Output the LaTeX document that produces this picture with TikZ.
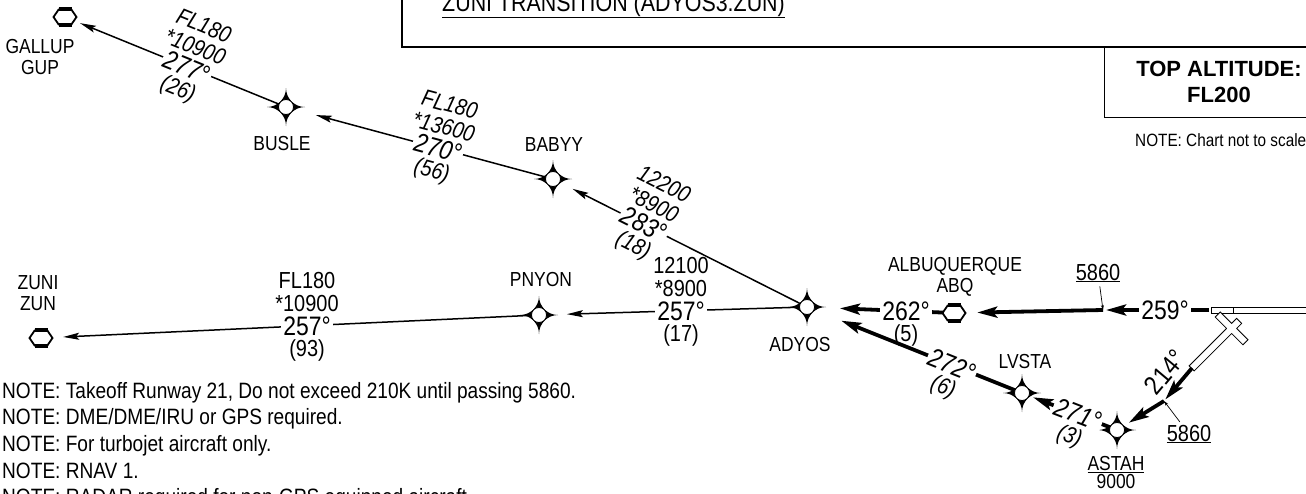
\documentclass[tikz,border=0pt]{standalone}
\usepackage{fontspec}
\setmainfont{Liberation Sans}[FakeStretch=0.86]
\newfontfamily\boxfont{Liberation Sans}
\usetikzlibrary{arrows.meta}

\newcommand{\wptfont}{\fontsize{20.3}{21.5}\selectfont}
\newcommand{\altfont}{\fontsize{23.2}{23}\selectfont}
\newcommand{\crsfont}{\fontsize{26.7}{28}\selectfont}
\newcommand{\notefont}{\fontsize{22.2}{26}\selectfont}

\begin{document}
\begin{tikzpicture}[
        x=1pt, y=-1pt,
        fixpt/.style={draw, circle, fill=white, line width=0.8pt, minimum size=15pt, inner sep=0pt},
        navaid/.style={circle, minimum size=22pt, inner sep=0pt},
        wpt/.style={font=\wptfont, align=center, inner sep=0pt},
        alt/.style={font=\altfont, align=center, inner sep=2pt},
        ralt/.style={alt, font=\altfont\itshape},
        crs/.style={font=\crsfont, fill=white, inner sep=2pt},
        rcrs/.style={crs, font=\crsfont\itshape},
        trans/.style={line width=1.5pt, -{Stealth[length=16pt, width=7pt, inset=3pt]}},
        dep/.style={line width=3.8pt, -{Stealth[length=20pt, width=11pt, inset=4pt]}},
        leader/.style={line width=0.7pt, -{Stealth[length=5pt, width=3pt]}},
        note/.style={font=\notefont, anchor=base west, inner sep=0pt}]

    \useasboundingbox (0,0) rectangle (1306,493);
    \clip (0,0) rectangle (1306,493);

    % --- FRAMES ---
    \draw[line width=1.8pt] (402,-5) -- (402,47) -- (1320,47);
    \draw[line width=1pt] (1104,47) -- (1104,117) -- (1320,117);
    \node[font=\fontsize{24.9}{26}\selectfont, anchor=base west, inner sep=0pt] (title) at (442,11) {\underline{ZUNI TRANSITION (ADYOS3.ZUN)}};
    \node[font=\boxfont\fontsize{22}{26}\selectfont\bfseries, align=center, inner sep=0pt] (top) at (1219,82) {TOP ALTITUDE:\\FL200};
    \node[font=\fontsize{17.8}{20}\selectfont, anchor=base west, inner sep=0pt] (scale) at (1135,146) {NOTE: Chart not to scale};

    % --- RUNWAYS ---
    \draw[line width=1pt, fill=white] (1211,307) rectangle (1320,313);
    \draw[line width=0.6pt] (1233,307) -- (1233,313);
    \begin{scope}[shift={(1192,368)}, rotate=45]
        \draw[line width=2pt] (0,-3) rectangle (66,3) (53,-19) rectangle (59,19);
        \fill[white] (0,-3) rectangle (66,3) (53,-19) rectangle (59,19);
    \end{scope}

    % --- NAVAIDS ---
    \foreach \n/\x/\y in {gup/65/17, zun/41/338, abq/954/313} {
        \begin{scope}[shift={(\x,\y)}]
            \draw[line width=1.8pt] (-6,-8) -- (-11.5,0) -- (-6,8) (6,-8) -- (11.5,0) -- (6,8);
            \draw[line width=4pt] (-6.5,-8) -- (6.5,-8) (-6.5,8) -- (6.5,8);
        \end{scope}
        \node[navaid] (\n) at (\x,\y) {};
    }

    % --- FIXES ---
    \foreach \n/\x/\y in {busle/286/107, babyy/553/179, pnyon/539/315, adyos/807/307, lvsta/1022/393, astah/1117/430} {
        \fill[shift={(\x,\y)}] (0,-19) .. controls (0,-8.5) and (8.5,0) .. (19,0)
            .. controls (8.5,0) and (0,8.5) .. (0,19)
            .. controls (0,8.5) and (-8.5,0) .. (-19,0)
            .. controls (-8.5,0) and (0,-8.5) .. (0,-19) -- cycle;
        \node[fixpt] (\n) at (\x,\y) {};
    }

    % --- NAMES ---
    \node[wpt] (gupN) at (40,57) {GALLUP\\GUP};
    \node[wpt] (zunN) at (38,293) {ZUNI\\ZUN};
    \node[wpt] (abqN) at (955,277) {ALBUQUERQUE\\ABQ};
    \node[wpt] (busleN) at (282,144) {BUSLE};
    \node[wpt] (babyyN) at (554,145) {BABYY};
    \node[wpt] (pnyonN) at (541,280) {PNYON};
    \node[wpt] (adyosN) at (800,345) {ADYOS};
    \node[wpt] (lvstaN) at (1025,362) {LVSTA};
    \node[wpt, font=\fontsize{20.3}{18.5}\selectfont, anchor=north] (astahN) at (1116,456) {\underline{ASTAH}\\9000};

    % --- TRANSITIONS ---
    \draw[trans, shorten >=5pt] (busle) -- (gup);
    \draw[trans, shorten >=23pt] (babyy) -- (busle);
    \draw[trans, shorten >=14pt] (adyos) -- (babyy);
    \draw[trans, shorten >=20pt] (adyos) -- (pnyon);
    \draw[trans, shorten >=11pt] (pnyon) -- (zun);

    % --- DEPARTURE ---
    \coordinate (rwyW) at (1209,310);
    \coordinate (rwyS) at (1192,368);
    \coordinate (x1) at (1103,310);
    \coordinate (x2) at (1164,401);
    \draw[dep, shorten >=3pt] (rwyW) -- (x1);
    \draw[dep, shorten >=12pt] (x1) -- (abq);
    \draw[dep, shorten >=25pt] (abq) -- (adyos);
    \draw[dep, shorten >=2pt] (rwyS) -- (x2);
    \draw[dep, shorten >=6pt] (x2) -- (astah);
    \draw[dep, shorten >=4pt] (astah) -- (lvsta);
    \draw[dep, shorten >=29pt] (lvsta) -- (adyos);

    % crossing altitudes
    \node[alt, anchor=base] (alt1) at (1098,280) {\underline{5860}};
    \node[alt, anchor=base] (alt2) at (1189,441) {\underline{5860}};
    \draw[leader, shorten <=2pt] (alt1) -- (x1);
    \draw[leader, shorten <=1pt] (alt2) -- (x2);

    % --- LEG LABELS ---
    \node[rcrs, rotate=-22.2] (leg1) at (187,67) {277°};
    \node[ralt, rotate=-22.2, anchor=south] (leg1a) at (leg1.north) {FL180\\*10900};
    \node[ralt, rotate=-22.2, anchor=north] (leg1b) at (leg1.south) {(26)};

    \node[rcrs, rotate=-15.1] (leg2) at (438,148) {270°};
    \node[ralt, rotate=-15.1, anchor=south] (leg2a) at (leg2.north) {FL180\\*13600};
    \node[ralt, rotate=-15.1, anchor=north] (leg2b) at (leg2.south) {(56)};

    \node[rcrs, rotate=-26.7] (leg3) at (644,224) {283°};
    \node[ralt, rotate=-26.7, anchor=south] (leg3a) at (leg3.north) {12200\\*8900};
    \node[ralt, rotate=-26.7, anchor=north] (leg3b) at (leg3.south) {(18)};

    \node[crs] (leg4) at (681,311) {257°};
    \node[alt, anchor=south] (leg4a) at (leg4.north) {12100\\*8900};
    \node[alt, anchor=north] (leg4b) at (leg4.south) {(17)};

    \node[crs] (leg5) at (307,326) {257°};
    \node[alt, anchor=south] (leg5a) at (leg5.north) {FL180\\*10900};
    \node[alt, anchor=north] (leg5b) at (leg5.south) {(93)};

    \node[crs] (leg6) at (906,311) {262°};
    \node[alt, anchor=north] (leg6b) at (leg6.south) {(5)};

    \node[crs] (leg7) at (1165,310) {259°};

    \node[rcrs, rotate=-21.8] (leg8) at (952,365) {272°};
    \node[ralt, rotate=-21.8, anchor=north] (leg8b) at (leg8.south) {(6)};

    \node[rcrs, rotate=-21.3] (leg9) at (1078,414) {271°};
    \node[ralt, rotate=-21.3, anchor=north] (leg9b) at (leg9.south) {(3)};

    \node[font=\crsfont, inner sep=0pt, rotate=50] (leg10) at (1165,372) {214°};

    % --- NOTES ---
    \foreach \txt [count=\i] in {{NOTE: Takeoff Runway 21, Do not exceed 210K until passing 5860.},
            {NOTE: DME/DME/IRU or GPS required.}, {NOTE: For turbojet aircraft only.},
            {NOTE: RNAV 1.}, {NOTE: RADAR required for non-GPS equipped aircraft.}}
        \node[note] (note\i) at (2,{398+26.7*(\i-1)}) {\txt};

\end{tikzpicture}
\end{document}
